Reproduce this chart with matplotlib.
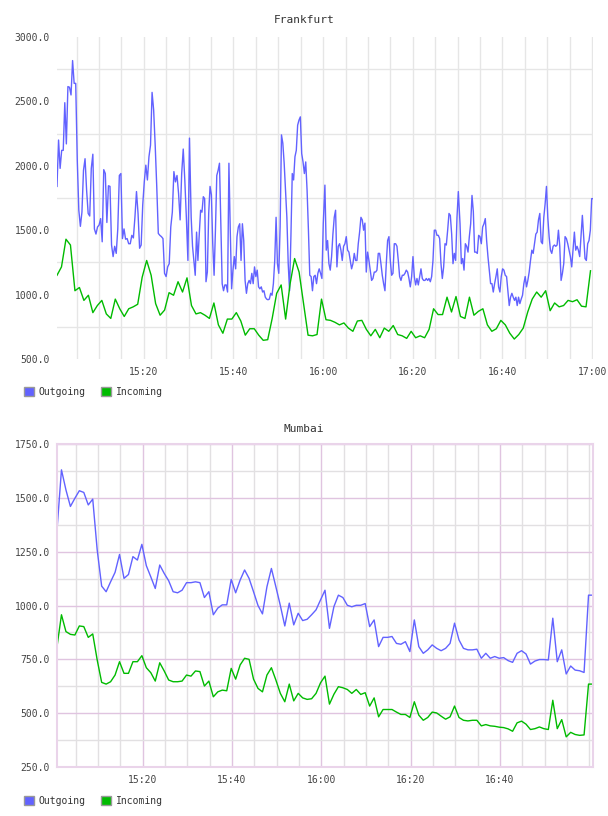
import matplotlib
matplotlib.use("Agg")
import matplotlib.pyplot as plt
import matplotlib.dates as mdates
from matplotlib.patches import Patch
from matplotlib.ticker import FormatStrFormatter, MultipleLocator, FixedLocator
import numpy as np
import pandas as pd

plt.rcParams['font.family'] = ['DejaVu Sans Mono']

BASE = pd.Timestamp("2015-06-01 15:00:00")


def at(minutes):
    return BASE + pd.to_timedelta(np.asarray(minutes, dtype=float), unit="min")


# Frankfurt outgoing, sampled roughly every 20 s, read in four ~30 min chunks
fra_out_1 = [1840, 2200, 1980, 2120, 2120, 2490, 2170, 2615, 2610, 2550, 2817, 2640, 2640, 2045, 1655,
             1530, 1640, 1965, 2055, 1810, 1630, 1610, 1980, 2090, 1510, 1470, 1525, 1540, 1590, 1410,
             1970, 1940, 1560, 1845, 1840, 1385, 1295, 1375, 1320, 1510, 1925, 1940, 1435, 1510, 1430,
             1435, 1395, 1395, 1460, 1440, 1600, 1800, 1630, 1360, 1385, 1695, 1875, 2005, 1890, 2070,
             2160, 2570, 2435, 2160, 1840, 1475, 1460, 1450, 1435, 1165, 1140, 1215, 1240, 1525, 1640,
             1955, 1875, 1925, 1785, 1580, 1940, 2130, 1890, 1600, 1265, 2215]
fra_out_2 = [1600, 1375, 1265, 1150, 1485, 1265, 1470, 1655, 1640, 1760, 1745, 1100, 1175, 1630, 1840,
             1775, 1395, 1150, 1500, 1925, 1965, 2020, 1550, 1085, 1030, 1075, 1075, 1020, 2020, 1500,
             1045, 1190, 1295, 1200, 1450, 1525, 1550, 1265, 1550, 1420, 1110, 1010, 1085, 1110, 1085,
             1165, 1085, 1215, 1140, 1190, 1060, 1045, 1060, 1020, 1030, 980, 965, 960, 965, 1010,
             995, 1085, 1265, 1600, 1240, 1165, 1525, 2240, 2175, 2020, 1810, 1600, 1240, 1030, 1450,
             1940, 1890, 2070, 2120, 2315, 2355, 2380, 2095, 2030, 1940, 2030, 1810, 1500, 1150, 1140,
             1030, 1140, 1150, 1085, 1165, 1200, 1165, 1125, 1550]
fra_out_3 = [1850, 1345, 1420, 1240, 1190, 1295, 1470, 1600, 1655, 1215, 1375, 1395, 1345, 1265, 1375,
             1395, 1450, 1345, 1330, 1265, 1200, 1240, 1320, 1265, 1265, 1395, 1485, 1600, 1580, 1500,
             1555, 1175, 1330, 1265, 1190, 1110, 1125, 1175, 1175, 1190, 1320, 1320, 1240, 1150, 1085,
             1030, 1240, 1420, 1450, 1265, 1150, 1165, 1395, 1395, 1375, 1265, 1140, 1110, 1150, 1150,
             1165, 1190, 1175, 1125, 1060, 1140, 1295, 1140, 1075, 1125, 1075, 1140, 1200, 1125, 1110,
             1110, 1125, 1110, 1125, 1100, 1140, 1265, 1500, 1500, 1460, 1460, 1435, 1240, 1125, 1215,
             1395, 1385, 1500, 1630, 1615, 1470, 1240, 1320, 1265, 1600, 1800]
fra_out_4 = [1550, 1240, 1280, 1190, 1395, 1375, 1330, 1450, 1550, 1770, 1645, 1330, 1330, 1320, 1460,
             1450, 1395, 1525, 1550, 1590, 1420, 1295, 1190, 1085, 1085, 1020, 1085, 1140, 1200, 1060,
             1020, 1140, 1200, 1190, 1150, 1140, 1030, 915, 980, 1010, 980, 955, 980, 915, 980,
             930, 965, 995, 1085, 1140, 1060, 1110, 1175, 1265, 1345, 1320, 1395, 1470, 1485, 1580,
             1630, 1410, 1395, 1600, 1705, 1840, 1600, 1450, 1345, 1320, 1375, 1385, 1375, 1385, 1500,
             1375, 1110, 1165, 1240, 1450, 1435, 1395, 1345, 1295, 1215, 1345, 1485, 1345, 1375, 1345,
             1295, 1450, 1615, 1450, 1280, 1265, 1395, 1420, 1500, 1745, 1745]
fra_out_chunks = [fra_out_1, fra_out_2, fra_out_3, fra_out_4]
# minutes after 15:00 covered by each chunk
fra_out_spans = [(0.64, 30.19), (30.57, 60.03), (60.40, 90.16), (90.54, 120.2)]

# Frankfurt incoming, one value per minute
fra_in = [1150, 1215, 1430, 1385, 1030, 1055, 955, 995, 860, 915, 955, 850, 815, 965, 890,
          830, 890, 905, 925, 1135, 1265, 1150, 930, 840, 880, 1015, 995, 1100, 1020, 1130,
          915, 850, 860, 840, 815, 935, 765, 700, 810, 810, 860, 795, 685, 735, 735,
          685, 645, 650, 815, 1010, 1075, 810, 1085, 1280, 1175, 930, 685, 680, 690, 965,
          805, 800, 785, 765, 780, 740, 715, 795, 800, 730, 680, 730, 665, 740, 715,
          760, 690, 680, 660, 715, 665, 680, 665, 730, 890, 845, 845, 980, 865, 985,
          830, 815, 980, 840, 870, 890, 765, 715, 735, 800, 765, 700, 655, 690, 740,
          865, 965, 1020, 980, 1030, 875, 935, 905, 915, 955, 945, 960, 910, 905, 1185]
fra_in_start = 0.64

# Mumbai, one value per minute
mum_out = [1351, 1630, 1537, 1460, 1498, 1533, 1525, 1467, 1494, 1258,
           1090, 1064, 1110, 1154, 1237, 1126, 1144, 1227, 1211, 1284,
           1185, 1133, 1079, 1188, 1149, 1115, 1064, 1059, 1071, 1106,
           1106, 1110, 1106, 1037, 1064, 957, 988, 1003, 1003, 1121,
           1059, 1118, 1165, 1126, 1064, 1000, 961, 1087, 1172, 1087,
           1000, 905, 1011, 910, 964, 930, 936, 957, 980, 1026,
           1071, 894, 995, 1048, 1037, 1001, 994, 1001, 1001, 1009,
           902, 933, 809, 852, 852, 856, 824, 820, 832, 786,
           933, 809, 778, 794, 817, 801, 790, 801, 824, 918,
           840, 801, 794, 794, 797, 755, 778, 755, 763, 755,
           758, 744, 736, 778, 790, 775, 728, 742, 749, 749,
           747, 941, 739, 794, 682, 719, 700, 697, 689, 1048,
           1048]
mum_in = [809, 957, 879, 866, 863, 905, 902, 852, 868, 747,
          643, 635, 646, 677, 739, 685, 685, 739, 739, 767,
          711, 688, 649, 734, 696, 654, 646, 646, 649, 677,
          672, 696, 693, 626, 649, 576, 599, 607, 604, 708,
          658, 724, 755, 750, 658, 615, 599, 677, 711, 654,
          592, 553, 635, 557, 592, 571, 564, 567, 592, 641,
          672, 542, 588, 623, 618, 610, 592, 610, 587, 595,
          533, 571, 483, 517, 517, 517, 505, 494, 494, 480,
          553, 491, 467, 480, 505, 501, 486, 472, 483, 533,
          480, 467, 464, 467, 467, 441, 447, 441, 439, 435,
          433, 427, 416, 455, 463, 449, 424, 428, 436, 428,
          424, 560, 428, 470, 390, 411, 401, 397, 399, 635,
          635]
mum_start = 0.84
mum_labels = [20, 40, 60, 80, 100]  # labelled minutes after 15:00 (no 17:00 label)

OUT_C = '#6262ff'
IN_C = '#00bb00'
TXT = '#444444'

fra_out_t = at(np.concatenate([np.linspace(a, b, len(c)) for c, (a, b) in zip(fra_out_chunks, fra_out_spans)]))
fra_out = np.concatenate(fra_out_chunks)
fra_in_t = at(fra_in_start + np.arange(len(fra_in)))
mum_t = at(mum_start + np.arange(len(mum_out)))

fig = plt.figure(figsize=(6.08, 8.16), dpi=100)
ax1 = fig.add_axes([57 / 608, 1 - 359 / 816, 536 / 608, 322 / 816])
ax2 = fig.add_axes([57 / 608, 1 - 767 / 816, 536 / 608, 323 / 816])

# --- Frankfurt ---
ax1.plot(fra_out_t, fra_out, color=OUT_C, lw=1.0)
ax1.plot(fra_in_t, fra_in, color=IN_C, lw=1.0)
ax1.set_xlim(fra_out_t[0], fra_out_t[-1])
ax1.set_ylim(500, 3000)
ax1.yaxis.set_major_locator(MultipleLocator(500))
ax1.yaxis.set_minor_locator(FixedLocator([750, 1250, 1750, 2250, 2750]))
ax1.xaxis.set_major_locator(mdates.MinuteLocator(byminute=[0, 20, 40]))
ax1.xaxis.set_minor_locator(mdates.MinuteLocator(byminute=range(0, 60, 5)))
ax1.grid(which='minor', axis='y', color='#e6e6e6', lw=1.0)
ax1.grid(which='both', axis='x', color='#e6e6e6', lw=1.0)
for s in ax1.spines.values():
    s.set_visible(False)

# --- Mumbai ---
ax2.plot(mum_t, mum_out, color=OUT_C, lw=1.0)
ax2.plot(mum_t, mum_in, color=IN_C, lw=1.0)
ax2.set_xlim(mum_t[0], mum_t[-1])
ax2.set_ylim(250, 1750)
ax2.yaxis.set_major_locator(MultipleLocator(250))
ax2.yaxis.set_minor_locator(MultipleLocator(125))
ax2.xaxis.set_major_locator(FixedLocator(mdates.date2num(at(mum_labels))))
ax2.xaxis.set_minor_locator(mdates.MinuteLocator(byminute=range(0, 60, 5)))
ax2.grid(which='minor', color='#e2e0e2', lw=1.0)
ax2.grid(which='major', color='#e0c4e0', lw=1.0)
for s in ax2.spines.values():
    s.set_color('#ead4ea')
    s.set_linewidth(1.5)

for ax in (ax1, ax2):
    ax.set_axisbelow(True)
    ax.yaxis.set_major_formatter(FormatStrFormatter('%.1f'))
    ax.xaxis.set_major_formatter(mdates.DateFormatter('%H:%M'))
    ax.tick_params(which='both', length=0, labelsize=7, labelcolor=TXT)
    ax.tick_params(axis='x', pad=6)
    ax.tick_params(axis='y', pad=5)

fig.text(0.5, 1 - 20 / 816, 'Frankfurt', ha='center', va='center', fontsize=8, color='#333333')
fig.text(0.5, 1 - 429 / 816, 'Mumbai', ha='center', va='center', fontsize=8, color='#333333')

for ypx in (392, 801):
    handles = [Patch(facecolor=OUT_C, edgecolor='#999999', lw=1, label='Outgoing'),
               Patch(facecolor=IN_C, edgecolor='#999999', lw=1, label='Incoming')]
    fig.legend(handles=handles, loc='center left', bbox_to_anchor=(24 / 608, 1 - ypx / 816),
               ncol=2, frameon=False, fontsize=7, handlelength=1.0, handleheight=1.0,
               handletextpad=0.5, columnspacing=1.6, borderpad=0, borderaxespad=0,
               labelcolor='#333333')

fig.savefig('out.png', dpi=100)
